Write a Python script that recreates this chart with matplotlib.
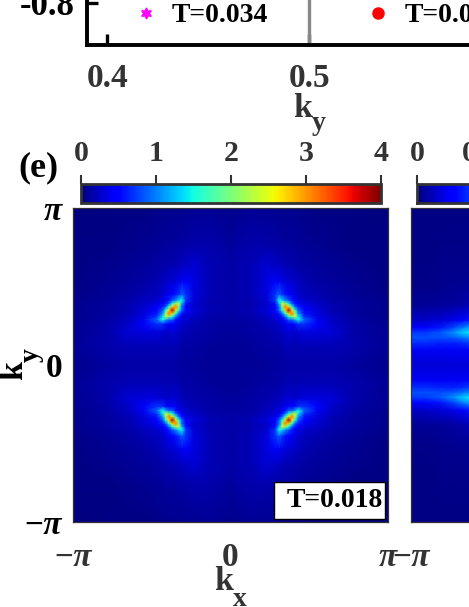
import numpy as np
from matplotlib import pyplot as plt
from matplotlib.lines import Line2D
from matplotlib.patches import Rectangle

plt.rcParams['font.family'] = ['Liberation Serif', 'DejaVu Sans']
plt.rcParams['font.weight'] = 'bold'

W, H = 469, 607
GREY = '#333333'

# top panel
top_xticks = [0.4, 0.5]
top_yticks = [-0.8]
marker_line_x = 0.5
legend_temps = ['T=0.034', 'T=0.026']
legend_colors = ['#ff00ff', '#ff0000']
legend_markers = [(6, 1, 0), 'o']

# panel (e), one quadrant, mirrored to the other three
kx_e = [0, .430, .730, .890, .970, 1.030, 1.090, 1.161, 1.230, 1.290, 1.351, 1.471, 1.731, 2.031, 2.431, 3.142]
ky_e = [0, .370, .670, .830, .910, .970, 1.030, 1.100, 1.171, 1.231, 1.291, 1.411, 1.671, 1.971, 2.371, 3.142]
weight_e = [
    [.08, .08, .10, .11, .12, .13, .14, .15, .15, .15, .15, .15, .15, .15, .12, .06],
    [.08, .10, .13, .14, .15, .16, .18, .20, .18, .18, .18, .19, .20, .20, .16, .08],
    [.10, .13, .17, .20, .22, .24, .27, .32, .28, .28, .30, .34, .34, .30, .17, .07],
    [.11, .14, .20, .24, .28, .32, .38, .50, .48, .55, .70, .70, .46, .26, .15, .07],
    [.12, .15, .22, .28, .35, .42, .55, .90, .95, 1.2, 1.5, .90, .40, .24, .14, .06],
    [.13, .16, .24, .32, .42, .60, .90, 1.5, 2.0, 2.3, 1.4, .70, .36, .22, .13, .06],
    [.14, .18, .27, .38, .55, .90, 1.5, 2.7, 3.1, 2.2, 1.1, .58, .33, .20, .12, .05],
    [.15, .20, .32, .50, .90, 1.5, 2.7, 3.9, 2.7, 1.5, .85, .48, .30, .18, .12, .05],
    [.15, .18, .28, .48, .95, 2.0, 3.1, 2.7, 1.5, .85, .60, .42, .28, .18, .12, .05],
    [.15, .18, .28, .55, 1.2, 2.3, 2.2, 1.5, .85, .60, .45, .34, .25, .16, .11, .05],
    [.15, .18, .30, .70, 1.5, 1.4, 1.1, .85, .60, .45, .36, .28, .22, .15, .10, .05],
    [.15, .19, .34, .70, .90, .70, .58, .48, .42, .34, .28, .23, .18, .13, .09, .04],
    [.15, .20, .34, .46, .40, .36, .33, .30, .28, .25, .22, .18, .14, .10, .07, .03],
    [.15, .20, .30, .26, .24, .22, .20, .18, .18, .16, .15, .13, .10, .08, .05, .02],
    [.12, .16, .17, .15, .14, .13, .12, .12, .12, .11, .10, .09, .07, .05, .03, .02],
    [.06, .08, .07, .07, .06, .06, .05, .05, .05, .05, .05, .04, .03, .02, .02, .01],
]

# panel (f), left part only is visible, upper half mirrored
kx_f = [-3.142, -2.85, -2.55, -2.3, -2.1, -1.9]
ky_f = [0, .30, .45, .55, .65, .75, .90, 1.20, 1.60, 2.20, 3.142]
weight_f = [
    [.18, .18, .18, .19, .19, .19],
    [.24, .24, .24, .24, .24, .27],
    [.40, .40, .37, .37, .40, .46],
    [.47, .47, .47, .50, .56, .65],
    [.43, .43, .50, .62, .77, .86],
    [.30, .30, .34, .45, .58, .72],
    [.15, .15, .18, .22, .28, .36],
    [.05, .05, .06, .07, .09, .13],
    [.02, .02, .03, .04, .04, .05],
    [.01, .01, .02, .02, .02, .03],
    [.01, .01, .01, .01, .01, .01],
]

cbar_ticks_e = [0, 1, 2, 3, 4]
cbar_ticks_f = [0, 0.5, 1, 1.5, 2]
cbar_labels_f = ['0', '0.5', '1', '1.5', '2']
vmax_e, vmax_f = 4, 2.35


def rect(x0, y0, x1, y1):
    # pixel box to figure fraction
    return [x0 / W, 1 - y1 / H, (x1 - x0) / W, (y1 - y0) / H]


def heat_panel(ax, kx, ky, z, vmax):
    ax.pcolormesh(kx, ky, z, shading='gouraud', cmap='jet', vmin=0, vmax=vmax)
    ax.set_xlim(-np.pi, np.pi)
    ax.set_ylim(-np.pi, np.pi)
    for s in ax.spines.values():
        s.set_linewidth(0.9)
        s.set_color(GREY)
    ax.tick_params(length=0)
    return ax.collections[0]


def cbar(fig, im, box, ticks, labels=None):
    cax = fig.add_axes(rect(*box))
    cb = fig.colorbar(im, cax=cax, orientation='horizontal', ticks=ticks, ticklocation='top')
    cb.ax.tick_params(length=6.5, width=1.5, pad=5.5, labelsize=21.5, labelcolor=GREY, color=GREY)
    cb.outline.set_linewidth(2)
    cb.outline.set_edgecolor(GREY)
    if labels:
        cb.set_ticklabels(labels)


def k_label(fig, x, y, sub, subx, suby, color, rotation=0):
    # k and its low subscript, anchored on their baselines, pixel positions
    fig.text(x / W, 1 - y / H, 'k', fontsize=24.5, color=color, rotation=rotation,
             ha='left', va='baseline', rotation_mode='anchor')
    fig.text(subx / W, 1 - suby / H, sub, fontsize=20, color=color, rotation=rotation,
             ha='left', va='baseline', rotation_mode='anchor')


fig = plt.figure(figsize=(W / 100, H / 100), dpi=100)

# top panel, mostly off the picture
ax = fig.add_axes(rect(87, -105, 700, 45))
ax.set_xlim(0.39, 0.6935)
ax.set_ylim(-0.9, -0.543)
ax.axvline(marker_line_x, color='#888888', lw=2.4)
ax.set_xticks(top_xticks)
ax.set_xticklabels(['%.1f' % v for v in top_xticks])
ax.set_yticks(top_yticks)
ax.set_yticklabels(['%.1f' % v for v in top_yticks])
ax.tick_params(direction='in', length=8, width=2.4, labelsize=24, labelcolor=GREY, pad=13)
ax.tick_params(axis='y', labelcolor='black', labelsize=25, pad=9)
for side in ['top', 'right']:
    ax.spines[side].set_visible(False)
for side in ['left', 'bottom']:
    ax.spines[side].set_linewidth(2.8)
k_label(fig, 293, 117, 'y', 312, 130, GREY)
handles = [Line2D([], [], ls='', marker=m, color=c, markersize=8)
           for m, c in zip(legend_markers, legend_colors)]
ax.legend(handles, legend_temps, ncols=2, frameon=False, fontsize=20, loc='lower left',
          bbox_to_anchor=(45 / 613, 0.11), borderaxespad=0, borderpad=0,
          handlelength=1, handletextpad=0.44, columnspacing=3.45)

# panel (e)
ke = np.array(kx_e)
qe = np.array(ky_e)
ze = np.array(weight_e)
ze = np.vstack([ze[::-1], ze[1:]])
ze = np.hstack([ze[:, ::-1], ze[:, 1:]])
ax_e = fig.add_axes(rect(73, 208, 388, 522))
im_e = heat_panel(ax_e, np.r_[-ke[::-1], ke[1:]], np.r_[-qe[::-1], qe[1:]], ze, vmax_e)
ax_e.set_xticks([-np.pi, 0, np.pi])
ax_e.set_xticklabels(['\u2212π', '0', 'π'], color=GREY)
ax_e.set_yticks([-np.pi, 0, np.pi])
ax_e.set_yticklabels(['\u2212π', '0', 'π'], color='black')
ax_e.tick_params(axis='x', labelsize=24, pad=14.5)
ax_e.tick_params(axis='y', labelsize=24, pad=8)
for lab in ax_e.get_xticklabels() + ax_e.get_yticklabels():
    if lab.get_text() != '0':
        lab.set_style('italic')
k_label(fig, 214, 590, 'x', 233, 606, GREY)
k_label(fig, 22, 380, 'k', 22, 380, 'black', rotation=90) if False else None
k_label(fig, 22, 380, 'y', 38, 362, 'black', rotation=90)
ax_e.add_patch(Rectangle((0.638, 0.0096), 0.352, 0.117, transform=ax_e.transAxes,
                         fc='white', ec='black', lw=1, zorder=3))
ax_e.text(0.984, 0.067, 'T=0.018', transform=ax_e.transAxes, ha='right', va='center',
          fontsize=20, zorder=4)
fig.text(18 / W, 1 - 168 / H, '(e)', fontsize=26, va='center')
cbar(fig, im_e, (81, 184, 381, 203), cbar_ticks_e)

# panel (f), runs off the right side of the picture
kf = np.array(ky_f)
zf = np.array(weight_f)
zf = np.vstack([zf[::-1], zf[1:]])
ax_f = fig.add_axes(rect(411, 208, 726, 522))
im_f = heat_panel(ax_f, kx_f, np.r_[-kf[::-1], kf[1:]], zf, vmax_f)
ax_f.set_xticks([-np.pi])
ax_f.set_xticklabels(['\u2212π'], color=GREY, style='italic')
ax_f.set_yticks([])
ax_f.tick_params(axis='x', labelsize=24, pad=14.5)
cbar(fig, im_f, (417, 184, 717, 203), cbar_ticks_f, cbar_labels_f)

fig.savefig('out.png', dpi=100)
